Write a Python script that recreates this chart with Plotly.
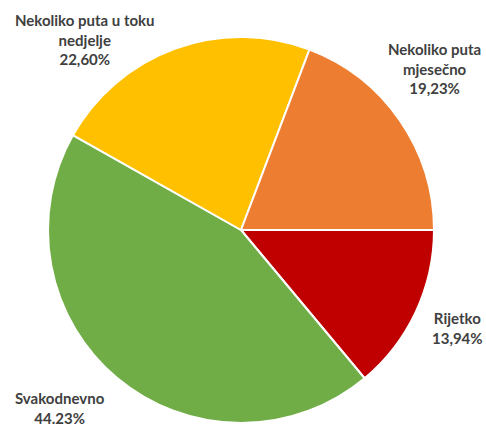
import plotly.graph_objects as go

labels = ["Rijetko", "Svakodnevno", "Nekoliko puta u toku nedjelje", "Nekoliko puta mjesečno"]
values = [13.94, 44.23, 22.60, 19.23]
colors = ["#C00000", "#70AD47", "#FFC000", "#ED7D31"]

# label texts as shown in the chart (line breaks and decimal marks as in original)
label_texts = [
    "Rijetko<br>13,94%",
    "Svakodnevno<br>44.23%",
    "Nekoliko puta u toku<br>nedjelje<br>22,60%",
    "Nekoliko puta<br>mjesečno<br>19,23%",
]
label_pos = [(457, 328), (60, 408), (85, 39), (434, 68)]

W, H = 486, 425

fig = go.Figure(go.Pie(
    labels=labels, values=values, sort=False,
    direction="clockwise", rotation=90,
    marker=dict(colors=colors, line=dict(color="white", width=2)),
    textinfo="none", hoverinfo="label+percent",
    domain=dict(x=[48 / W, 434 / W], y=[2 / H, 388 / H]),
    showlegend=False,
))

for txt, (px_, py_) in zip(label_texts, label_pos):
    fig.add_annotation(
        x=px_ / W, y=1 - py_ / H, xref="paper", yref="paper",
        text=txt, showarrow=False, xanchor="center", yanchor="middle",
        align="center",
        font=dict(family="Lato", size=15, color="#404040", weight="bold"),
    )

fig.update_layout(
    width=W, height=H, margin=dict(l=0, r=0, t=0, b=0),
    paper_bgcolor="white", plot_bgcolor="white",
)
# drop the default page margin so the chart fills the window
fig.write_html("out.html", config={"displayModeBar": False},
               post_script="document.body.style.margin='0';")
